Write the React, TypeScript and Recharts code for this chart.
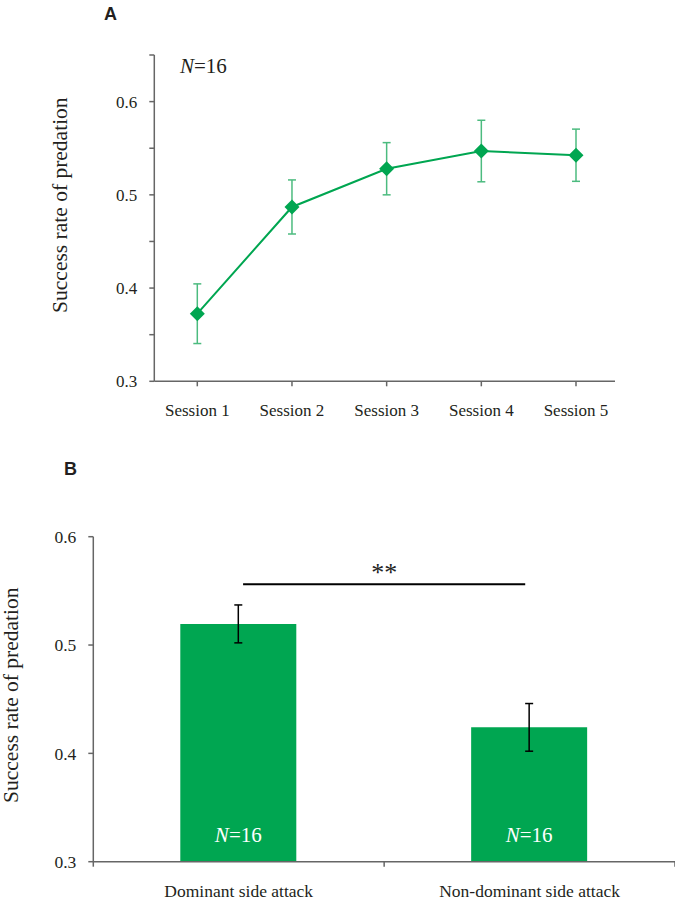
import React from 'react';
import {
  LineChart, Line, XAxis, YAxis, ErrorBar, BarChart, Bar,
  ReferenceLine, LabelList, Label,
} from 'recharts';

// ---- Panel A data ----
const sessions = ['Session 1', 'Session 2', 'Session 3', 'Session 4', 'Session 5'];
const sessionRates = [0.3725, 0.487, 0.528, 0.547, 0.5425];
const sessionErrors = [0.032, 0.029, 0.028, 0.033, 0.028];
const rateTicksA = [0.3, 0.35, 0.4, 0.45, 0.5, 0.55, 0.6, 0.65];
const sampleSizeA = 16;

// ---- Panel B data ----
const attackSides = ['Dominant side attack', 'Non-dominant side attack'];
const attackRates = [0.5195, 0.424];
const attackErrors = [0.0175, 0.022];
const attackN = [16, 16];
const rateTicksB = [0.3, 0.4, 0.5, 0.6];
const sigFrom = 0.515;
const sigTo = 1.485;
const sigLevel = 0.556;
const sigLabel = '**';

const dataA = sessions.map((s, i) => ({ session: s, rate: sessionRates[i], err: sessionErrors[i] }));
const dataB = attackSides.map((s, i) => ({ side: s, pos: i + 0.5, rate: attackRates[i], err: attackErrors[i], n: attackN[i] }));

const GREEN = '#00a651';
const ERR_GREEN = '#4cbb7f';
const AXIS = '#666666';
const TEXT = '#231f20';
const SERIF = '"Liberation Serif", "Times New Roman", serif';
const SANS = '"Liberation Sans", Arial, sans-serif';

const fmtA = (v: number) => {
  const t = v * 10;
  return Math.abs(t - Math.round(t)) < 1e-6 && v < 0.61 ? v.toFixed(1) : '';
};

const Diamond = (props: any) => {
  const { cx, cy, index } = props;
  const r = 7.5;
  return (
    <polygon
      key={`d-${index}`}
      points={`${cx},${cy - r} ${cx + r},${cy} ${cx},${cy + r} ${cx - r},${cy}`}
      fill={GREEN}
    />
  );
};

const BTick = (props: any) => {
  const { x, y, payload } = props;
  const v = payload.value;
  if (Math.abs(v - Math.round(v)) < 1e-6) {
    return <line x1={x} x2={x} y1={y - 5} y2={y} stroke={AXIS} strokeWidth={1.5} />;
  }
  const idx = Math.floor(v);
  return (
    <text x={x} y={y + 30} textAnchor="middle" fontFamily={SERIF} fontSize={17.5} fill={TEXT}>
      {attackSides[idx]}
    </text>
  );
};

export default function App() {
  return (
    <div style={{ position: 'absolute', left: 0, top: 0, width: 675, height: 905, background: '#fff' }}>
      <div style={{ position: 'absolute', left: 0, top: 0 }}>
        <LineChart width={675} height={440} data={dataA} margin={{ top: 55, right: 60, bottom: 28.7, left: 94.3 }}>
          <XAxis
            dataKey="session"
            scale="point"
            padding={{ left: 43, right: 39 }}
            height={30}
            stroke={AXIS}
            strokeWidth={1.5}
            tickSize={5}
            tickMargin={18}
            tick={{ fontFamily: SERIF, fontSize: 17, fill: TEXT }}
            tickLine={{ stroke: AXIS, strokeWidth: 1.5 }}
            interval={0}
          />
          <YAxis
            type="number"
            domain={[0.3, 0.65]}
            ticks={rateTicksA}
            interval={0}
            allowDataOverflow
            width={60}
            stroke={AXIS}
            strokeWidth={1.5}
            tickSize={5}
            tickMargin={12}
            tickFormatter={fmtA}
            tick={{ fontFamily: SERIF, fontSize: 17, fill: TEXT }}
            tickLine={{ stroke: AXIS, strokeWidth: 1.5 }}
          >
            <Label
              content={(p: any) => {
                const vb = p.viewBox;
                const x = vb.x - 27;
                const y = vb.y + vb.height / 2 - 13;
                return (
                  <text x={x} y={y} transform={`rotate(-90, ${x}, ${y})`} textAnchor="middle" fontFamily={SERIF} fontSize={21.5} fill={TEXT}>
                    Success rate of predation
                  </text>
                );
              }}
            />
          </YAxis>
          <Line
            type="linear"
            dataKey="rate"
            stroke={GREEN}
            strokeWidth={2}
            dot={Diamond}
            activeDot={false}
            isAnimationActive={false}
          >
            <ErrorBar dataKey="err" width={4} stroke={ERR_GREEN} strokeWidth={1.5} direction="y" />
          </Line>
        </LineChart>
      </div>

      <div style={{ position: 'absolute', left: 0, top: 440 }}>
        <BarChart width={675} height={465} data={dataB} margin={{ top: 96.7, right: 0, bottom: 3.3, left: 33.3 }}>
          <XAxis
            type="number"
            dataKey="pos"
            domain={[0, 2]}
            ticks={[0, 0.5, 1, 1.5, 2]}
            interval={0}
            allowDataOverflow
            height={40}
            stroke={AXIS}
            strokeWidth={1.5}
            tickSize={5}
            tickMargin={0}
            tickLine={false}
            tick={BTick}
          />
          <YAxis
            type="number"
            domain={[0.3, 0.6]}
            ticks={rateTicksB}
            interval={0}
            allowDataOverflow
            width={60}
            stroke={AXIS}
            strokeWidth={1.5}
            tickSize={5}
            tickMargin={12}
            tickFormatter={(v: number) => v.toFixed(1)}
            tick={{ fontFamily: SERIF, fontSize: 17.5, fill: TEXT }}
            tickLine={{ stroke: AXIS, strokeWidth: 1.5 }}
          >
            <Label
              content={(p: any) => {
                const vb = p.viewBox;
                const x = vb.x - 15;
                const y = vb.y + vb.height / 2 - 4;
                return (
                  <text x={x} y={y} transform={`rotate(-90, ${x}, ${y})`} textAnchor="middle" fontFamily={SERIF} fontSize={21.5} fill={TEXT}>
                    Success rate of predation
                  </text>
                );
              }}
            />
          </YAxis>
          <Bar dataKey="rate" fill={GREEN} barSize={116} isAnimationActive={false}>
            <ErrorBar dataKey="err" width={4} stroke="#000" strokeWidth={1.5} direction="y" />
            <LabelList
              dataKey="n"
              content={(p: any) => (
                <text
                  x={p.x + p.width / 2}
                  y={p.y + p.height - 20}
                  textAnchor="middle"
                  fontFamily={SERIF}
                  fontSize={21}
                  fill="#ffffff"
                >
                  <tspan fontStyle="italic">N</tspan>={p.value}
                </text>
              )}
            />
          </Bar>
          <ReferenceLine
            segment={[{ x: sigFrom, y: sigLevel }, { x: sigTo, y: sigLevel }]}
            stroke="#000"
            strokeWidth={2}
            label={(p: any) => {
              const vb = p.viewBox || {};
              const x = (vb.x || 0) + (vb.width || 0) / 2;
              const y = (vb.y || 0) - 3;
              return (
                <text x={x} y={y} textAnchor="middle" fontFamily={SERIF} fontSize={26} fill="#222">
                  {sigLabel}
                </text>
              );
            }}
          />
        </BarChart>
      </div>

      <svg width={675} height={905} style={{ position: 'absolute', left: 0, top: 0, pointerEvents: 'none' }}>
        <text x={104} y={19.5} fontFamily={SANS} fontWeight="bold" fontSize={18} fill={TEXT}>A</text>
        <text x={64} y={474.5} fontFamily={SANS} fontWeight="bold" fontSize={18} fill={TEXT}>B</text>
        <text x={180} y={72.5} fontFamily={SERIF} fontSize={21} fill={TEXT}>
          <tspan fontStyle="italic">N</tspan>={sampleSizeA}
        </text>
      </svg>
    </div>
  );
}
